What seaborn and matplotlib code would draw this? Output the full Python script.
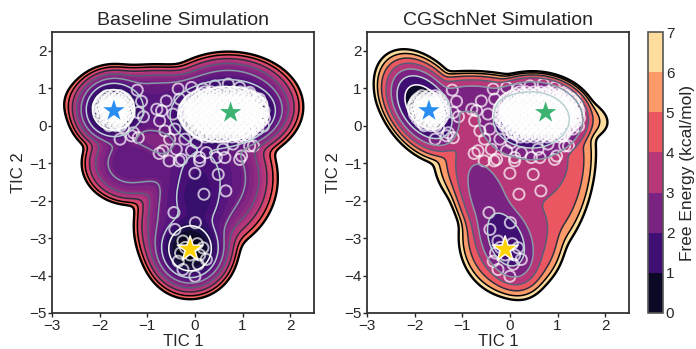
import numpy as np
import matplotlib
matplotlib.use("Agg")
import matplotlib.pyplot as plt
import seaborn as sns
from matplotlib.colors import BoundaryNorm, ListedColormap
from matplotlib.cm import ScalarMappable

sns.set_style("white")
plt.rcParams["font.family"] = ["Liberation Sans", "DejaVu Sans"]

# free-energy wells: centre, width, tilt, depth (kcal/mol), shape
# baseline: A, B, C, top envelope, middle envelope, lower-left, channel, lower envelope, B halo
base_cx = [-1.72, 0.62, -0.10, -0.60, 0.20, -1.35, 0.10, -0.15, 0.70]
base_cy = [0.42, 0.30, -3.30, 0.50, -1.40, -1.00, -1.50, -2.70, 0.50]
base_sx = [0.24, 0.60, 0.25, 1.10, 0.81, 0.55, 0.40, 0.60, 0.80]
base_sy = [0.30, 0.48, 0.33, 0.60, 1.05, 0.60, 0.80, 0.85, 0.75]
base_rho = [0.0, 0.1, 0.0, -0.1, 0.0, 0.0, 0.0, 0.0, 0.0]
base_f0 = [0.0, 0.0, 0.05, 1.9, 1.9, 2.1, 1.8, 2.0, 1.5]
base_pow = [1.0, 1.6, 1.0, 1.8, 1.8, 1.8, 1.5, 1.8, 1.8]

# CGSchNet: A, A halo, B, C, tongue, top band, middle, bottom, A-B bridge, lower right
cg_cx = [-1.80, -1.75, 0.47, -0.07, -0.40, -0.30, 0.00, 0.05, -0.80, 0.85]
cg_cy = [0.50, 0.45, 0.17, -3.10, -2.20, 0.40, -0.90, -3.00, 0.75, -1.40]
cg_sx = [0.22, 0.30, 0.84, 0.26, 0.35, 1.33, 0.85, 0.61, 0.50, 0.55]
cg_sy = [0.32, 0.45, 0.80, 0.45, 0.75, 0.58, 0.90, 0.86, 0.25, 1.30]
cg_rho = [-0.4, -0.5, 0.0, -0.3, -0.6, -0.3, 0.0, 0.0, 0.0, 0.3]
cg_f0 = [0.0, 1.6, 1.8, 1.3, 2.4, 3.3, 3.25, 3.5, 2.6, 4.2]
cg_pow = [1.0, 1.3, 3.0, 1.2, 1.3, 2.2, 2.0, 2.0, 1.3, 2.0]

# MSM cluster centres (same in both panels)
sparse_x = [-1.21, -1.12, -1.19, -1.08, -1.50, -1.33, -1.57, -1.19, -1.29,
            -0.80, -0.35, -0.07, 0.17, 0.42, 0.70, 0.94, 1.15, 1.36, -0.60, -0.70,
            -0.74, -0.63, -0.53, -0.67, -0.39, -0.28, -0.07, 0.10, 0.24, 0.45, 0.59,
            0.80, 0.98, 1.15, 1.11, 1.32, 1.36, 1.44, 1.23, -0.21, 0.03, -0.42, -0.46,
            -0.32, -0.75, -0.54, -0.33, 0.10, 0.63, 0.94, 0.00, 0.49, 0.19, 0.65,
            -0.44, 0.01, -0.42, -0.25, 0.17, 0.24, 0.07, -0.25, 0.00, -0.35,
            -0.20, 0.05, -0.10, 0.10, -0.30]
sparse_y = [0.95, 0.65, 0.35, 0.24, -0.05, -0.27, -0.36, -0.32, -0.19,
            0.44, 0.98, 1.02, 0.98, 1.06, 1.11, 1.02, 0.89, 0.71, 0.66, 0.40,
            0.13, -0.14, -0.36, -0.67, -0.63, -0.90, -0.67, -0.94, -0.72, -0.85, -0.63,
            -0.49, -0.81, -0.54, -0.27, -0.09, 0.26, -0.01, -0.54, -0.36, -0.45, -0.09, 0.31,
            0.71, -0.74, -0.94, -0.94, -0.85, -0.85, -0.90, -1.27, -1.30, -1.83, -1.74,
            -2.32, -2.59, -2.77, -3.08, -3.26, -3.57, -3.70, -3.84, -4.02, -3.62,
            -3.25, -3.15, -3.45, -3.45, -3.40]

# densely sampled cores, row by row (y: list of x)
core_b_rows = {
    0.90: [0.2, 0.35, 0.5, 0.65, 0.8, 0.95],
    0.85: [0.12, 0.27, 0.42, 0.57, 0.72, 0.87, 1.02, 1.12],
    0.80: [0.05, 0.19, 0.33, 0.47, 0.61, 0.75, 0.89, 1.03, 1.17],
    0.75: [-0.02, 0.13, 0.28, 0.43, 0.57, 0.71, 0.85, 1.0, 1.14, 1.26],
    0.70: [-0.08, 0.07, 0.21, 0.36, 0.5, 0.64, 0.78, 0.93, 1.07, 1.21, 1.32],
    0.65: [-0.12, 0.04, 0.18, 0.32, 0.47, 0.62, 0.76, 0.9, 1.05, 1.19, 1.33],
    0.60: [-0.15, 0.0, 0.14, 0.28, 0.43, 0.57, 0.71, 0.86, 1.0, 1.14, 1.28, 1.4],
    0.55: [-0.18, -0.02, 0.12, 0.27, 0.41, 0.56, 0.7, 0.84, 0.99, 1.13, 1.27, 1.41],
    0.50: [-0.2, -0.06, 0.09, 0.23, 0.37, 0.52, 0.66, 0.8, 0.95, 1.09, 1.23, 1.37],
    0.45: [-0.23, -0.1, 0.03, 0.17, 0.31, 0.45, 0.59, 0.73, 0.87, 1.01, 1.15, 1.29, 1.42],
    0.40: [-0.22, -0.08, 0.06, 0.2, 0.34, 0.48, 0.62, 0.76, 0.9, 1.04, 1.18, 1.32, 1.45],
    0.35: [-0.2, -0.05, 0.09, 0.23, 0.37, 0.51, 0.65, 0.79, 0.93, 1.07, 1.21, 1.36],
    0.30: [-0.24, -0.1, 0.04, 0.18, 0.32, 0.46, 0.6, 0.74, 0.88, 1.02, 1.16, 1.3, 1.44],
    0.25: [-0.24, -0.12, 0.02, 0.16, 0.3, 0.44, 0.58, 0.72, 0.86, 1.0, 1.14, 1.28, 1.42],
    0.20: [-0.2, -0.06, 0.08, 0.22, 0.36, 0.5, 0.64, 0.78, 0.92, 1.06, 1.2, 1.34, 1.46],
    0.15: [-0.15, 0.0, 0.14, 0.29, 0.43, 0.57, 0.71, 0.85, 0.99, 1.13, 1.28, 1.4],
    0.10: [-0.18, -0.03, 0.11, 0.25, 0.4, 0.54, 0.68, 0.82, 0.97, 1.11, 1.25, 1.39],
    0.05: [-0.1, 0.05, 0.19, 0.34, 0.48, 0.62, 0.76, 0.9, 1.05, 1.19, 1.33],
    0.00: [-0.12, 0.02, 0.16, 0.3, 0.45, 0.59, 0.73, 0.87, 1.01, 1.16, 1.3],
    -0.05: [-0.02, 0.13, 0.27, 0.41, 0.56, 0.7, 0.84, 0.98, 1.12, 1.25],
    -0.10: [-0.05, 0.1, 0.24, 0.38, 0.52, 0.66, 0.8, 0.95, 1.09, 1.22],
    -0.15: [0.04, 0.18, 0.32, 0.46, 0.6, 0.74, 0.88, 1.02, 1.14],
    -0.20: [0.06, 0.2, 0.34, 0.48, 0.62, 0.76, 0.9, 1.04, 1.16],
    -0.25: [0.14, 0.28, 0.42, 0.56, 0.7, 0.84, 0.98, 1.1],
    -0.30: [0.22, 0.36, 0.5, 0.64, 0.78, 0.92, 1.04],
}
core_a_rows = {
    0.80: [-1.85, -1.7, -1.57],
    0.75: [-1.9, -1.77, -1.63, -1.5],
    0.70: [-1.95, -1.82, -1.68, -1.55, -1.45],
    0.65: [-1.98, -1.85, -1.72, -1.58, -1.45],
    0.60: [-2.0, -1.88, -1.75, -1.62, -1.5, -1.4],
    0.55: [-2.02, -1.83, -1.7, -1.57, -1.45],
    0.50: [-2.03, -1.9, -1.78, -1.65, -1.52, -1.4],
    0.45: [-1.96, -1.83, -1.7, -1.57, -1.44],
    0.40: [-2.02, -1.88, -1.75, -1.62, -1.5, -1.38],
    0.35: [-1.94, -1.8, -1.67, -1.54, -1.42],
    0.30: [-2.0, -1.86, -1.73, -1.6, -1.47, -1.38],
    0.25: [-1.92, -1.78, -1.64, -1.5],
    0.20: [-1.95, -1.82, -1.68, -1.55, -1.43],
    0.15: [-1.85, -1.72, -1.58, -1.46],
    0.10: [-1.88, -1.75, -1.62, -1.5],
    0.05: [-1.82, -1.68, -1.55],
    0.00: [-1.8, -1.66, -1.55],
}

star_x = [-1.70, 0.75, -0.10]
star_y = [0.40, 0.35, -3.30]
star_names = ["A", "B", "C"]
star_colors = ["#2a8ef0", "#3cb371", "#ffd200"]

pts_x = list(sparse_x)
pts_y = list(sparse_y)
for rows in (core_b_rows, core_a_rows):
    for yv, xs in rows.items():
        pts_x += xs
        pts_y += [yv] * len(xs)

xg = np.linspace(-3, 2.5, 400)
yg = np.linspace(-5, 2.5, 500)
X, Y = np.meshgrid(xg, yg)


def surface(cx, cy, sx, sy, rho, f0, pw, kT=0.6):
    p = np.zeros_like(X)
    for i in range(len(cx)):
        dx = (X - cx[i]) / sx[i]
        dy = (Y - cy[i]) / sy[i]
        q = (dx**2 - 2 * rho[i] * dx * dy + dy**2) / (1 - rho[i] ** 2)
        p += np.exp(-(f0[i] + 0.5 * kT * q ** pw[i]) / kT)
    F = -kT * np.log(p + 1e-300)
    return F - F.min()


panels = [
    ("Baseline Simulation", surface(base_cx, base_cy, base_sx, base_sy, base_rho, base_f0, base_pow),
     5.0, np.arange(0, 5.01, 0.25), np.linspace(1, 5, 7)),
    ("CGSchNet Simulation", surface(cg_cx, cg_cy, cg_sx, cg_sy, cg_rho, cg_f0, cg_pow),
     7.0, np.arange(0, 7.01, 1.0), np.arange(1, 7.01, 1.0)),
]

fig = plt.figure(figsize=(6.96, 3.49), dpi=100)
ax_pos = [[0.0747, 0.1032, 0.3764, 0.805], [0.5273, 0.1032, 0.3764, 0.805]]

for pos, (title, F, fmax, fill_lv, line_lv) in zip(ax_pos, panels):
    ax = fig.add_axes(pos)
    ax.contourf(X, Y, F, levels=fill_lv, cmap="magma", vmin=0, vmax=7)
    ax.contour(X, Y, F, levels=line_lv[:-1], cmap="bone_r", linewidths=1.1)
    ax.contour(X, Y, F, levels=[fmax], colors="black", linewidths=1.7)
    sns.scatterplot(x=pts_x, y=pts_y, ax=ax, s=64, marker="o", facecolor="none",
                    edgecolor="white", linewidth=1.4, alpha=0.7)
    sns.scatterplot(x=star_x, y=star_y, hue=star_names, palette=star_colors, ax=ax,
                    marker="*", s=380, edgecolor="white", linewidth=1.0,
                    legend=False, zorder=5)
    ax.set_xlim(-3, 2.5)
    ax.set_ylim(-5, 2.5)
    ax.set_xticks(range(-3, 3))
    ax.set_yticks(range(-5, 3))
    ax.tick_params(labelsize=11, bottom=True, left=True, length=3, width=1, pad=1)
    ax.set_xlabel("TIC 1", fontsize=12, labelpad=1)
    ax.set_ylabel("TIC 2", fontsize=12, labelpad=2)
    ax.set_title(title, fontsize=14, pad=5)
    for sp in ax.spines.values():
        sp.set_color("#333333")
        sp.set_linewidth(1.3)

cax = fig.add_axes([0.931, 0.1032, 0.0216, 0.805])
bounds = np.arange(0, 8)
cmap7 = ListedColormap(plt.get_cmap("magma")((bounds[:-1] + 0.5) / 7))
cb = fig.colorbar(ScalarMappable(norm=BoundaryNorm(bounds, 7), cmap=cmap7), cax=cax, ticks=bounds)
cb.set_label("Free Energy (kcal/mol)", fontsize=12.5, labelpad=4)
cb.ax.tick_params(labelsize=11, length=0, pad=2)
cb.outline.set_edgecolor("#555555")
cb.outline.set_linewidth(1.2)

fig.savefig("out.png", dpi=100)
